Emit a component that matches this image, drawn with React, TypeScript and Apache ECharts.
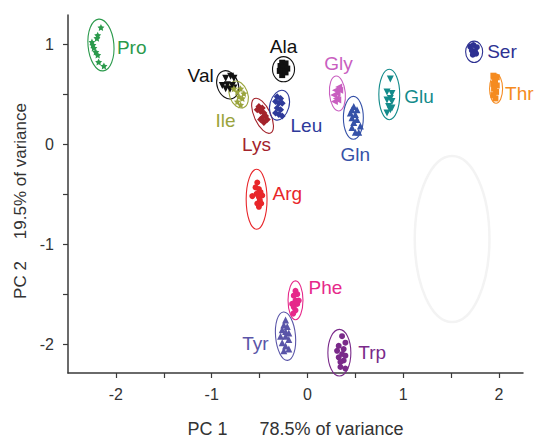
import React, { useEffect, useRef } from "react";
import * as echarts from "echarts";

// ---------- data ----------
const groups = ["Pro", "Val", "Ile", "Ala", "Lys", "Leu", "Gly", "Gln", "Glu", "Ser", "Thr", "Arg", "Phe", "Tyr", "Trp"];

const proPts = [[-2.156, 1.165], [-2.19, 1.087], [-2.198, 1.058], [-2.25, 1.019], [-2.24, 0.99], [-2.23, 0.96], [-2.21, 0.92], [-2.19, 0.89], [-2.18, 0.82], [-2.125, 0.78]];
const valPts = [[-0.854, 0.657], [-0.802, 0.677], [-0.768, 0.657], [-0.889, 0.585], [-0.836, 0.592], [-0.784, 0.585], [-0.854, 0.553], [-0.809, 0.547], [-0.768, 0.56]];
const ilePts = [[-0.768, 0.553], [-0.732, 0.521], [-0.698, 0.553], [-0.716, 0.473], [-0.68, 0.456], [-0.732, 0.424], [-0.698, 0.391], [-0.664, 0.505]];
const alaPts = [[-0.264, 0.813], [-0.229, 0.806], [-0.281, 0.78], [-0.247, 0.764], [-0.211, 0.754], [-0.289, 0.731], [-0.253, 0.722], [-0.264, 0.689], [-0.229, 0.716]];
const lysPts = [[-0.507, 0.376], [-0.472, 0.359], [-0.524, 0.343], [-0.49, 0.327], [-0.455, 0.311], [-0.4375, 0.279], [-0.472, 0.262], [-0.42, 0.246], [-0.455, 0.214], [-0.49, 0.246]];
const leuPts = [[-0.316, 0.473], [-0.281, 0.456], [-0.333, 0.424], [-0.299, 0.408], [-0.264, 0.408], [-0.316, 0.359], [-0.281, 0.343], [-0.333, 0.311], [-0.299, 0.294], [-0.264, 0.279]];
const glyPts = [[0.326, 0.57], [0.292, 0.537], [0.309, 0.505], [0.274, 0.489], [0.302, 0.456], [0.281, 0.424], [0.316, 0.44], [0.336, 0.537]];
const glnPts = [[0.483, 0.376], [0.465, 0.343], [0.517, 0.343], [0.448, 0.311], [0.5, 0.294], [0.465, 0.262], [0.517, 0.246], [0.483, 0.214], [0.552, 0.181], [0.5, 0.117], [0.465, 0.165], [0.535, 0.117]];
const gluPts = [[0.865, 0.65], [0.83, 0.521], [0.882, 0.505], [0.865, 0.456], [0.83, 0.44], [0.882, 0.424], [0.847, 0.376], [0.865, 0.343], [0.83, 0.311], [0.882, 0.359]];
const serPts = [[1.698, 0.974], [1.733, 0.99], [1.768, 0.968], [1.716, 0.935], [1.75, 0.925], [1.726, 0.893], [1.76, 0.903]];
const thrPts = [[1.941, 0.683], [1.976, 0.667], [1.958, 0.634], [1.941, 0.602], [1.976, 0.585], [1.948, 0.553], [1.969, 0.521], [1.941, 0.489], [1.962, 0.456]];
const argPts = [[-0.524, -0.385], [-0.542, -0.434], [-0.507, -0.45], [-0.49, -0.482], [-0.531, -0.498], [-0.472, -0.515], [-0.507, -0.531], [-0.576, -0.521], [-0.497, -0.563], [-0.524, -0.595], [-0.483, -0.595], [-0.507, -0.628]];
const phePts = [[-0.125, -1.469], [-0.107, -1.502], [-0.143, -1.517], [-0.125, -1.566], [-0.091, -1.566], [-0.16, -1.599], [-0.107, -1.599], [-0.143, -1.631], [-0.125, -1.663], [-0.149, -1.696]];
const tyrPts = [[-0.229, -1.76], [-0.247, -1.809], [-0.211, -1.825], [-0.264, -1.857], [-0.229, -1.874], [-0.195, -1.89], [-0.281, -1.922], [-0.229, -1.922], [-0.195, -1.955], [-0.264, -1.987], [-0.229, -2.019], [-0.195, -2.051], [-0.247, -2.068]];
const trpPts = [[0.361, -1.922], [0.396, -1.987], [0.326, -2.019], [0.378, -2.051], [0.309, -2.068], [0.361, -2.1], [0.396, -2.117], [0.326, -2.133], [0.378, -2.165], [0.344, -2.181], [0.396, -2.246], [0.344, -2.23]];

// confidence ellipses (data units): centre x, centre y, half-width, half-height
const ellipseCx = [-2.156, -0.833, -0.719, -0.25, -0.469, -0.292, 0.3125, 0.479, 0.854, 1.74, 1.969, -0.531, -0.125, -0.229, 0.333];
const ellipseCy = [0.99, 0.592, 0.495, 0.748, 0.282, 0.388, 0.505, 0.262, 0.495, 0.922, 0.553, -0.553, -1.563, -1.922, -2.087];
const ellipseRx = [0.135, 0.11, 0.095, 0.115, 0.085, 0.1, 0.083, 0.104, 0.109, 0.089, 0.068, 0.109, 0.078, 0.104, 0.12];
const ellipseRy = [0.26, 0.145, 0.14, 0.126, 0.19, 0.152, 0.175, 0.214, 0.252, 0.107, 0.146, 0.3, 0.194, 0.243, 0.233];

// faint ghost ellipse visible in the figure
const ghostEllipse = [[1.51, -0.95, 0.39, 0.83]];

const xLabelTicks = [-2, -1, 0, 1, 2];
const xAllTicks = [-2, -1.5, -1, -0.5, 0, 0.5, 1, 1.5, 2];
const yLabelTicks = [-2, -1, 0, 1];
const yAllTicks = [-2, -1.5, -1, -0.5, 0, 0.5, 1];

const pointSets = [proPts, valPts, ilePts, alaPts, lysPts, leuPts, glyPts, glnPts, gluPts, serPts, thrPts, argPts, phePts, tyrPts, trpPts];

// ---------- styles ----------
const STAR = "path://M0,-10L2.9,-4L9.5,-3.1L4.8,1.5L5.9,8.1L0,5L-5.9,8.1L-4.8,1.5L-9.5,-3.1L-2.9,-4Z";
const colors = ["#2b9a4c", "#111111", "#9aa43c", "#111111", "#a3232b", "#2e3a9a", "#c95ec0", "#3652a8", "#138b8b", "#2e3192", "#f58b20", "#e8262a", "#e6288a", "#5a55a8", "#7a2a8a"];
const symbols = [STAR, "triangle", STAR, "rect", "diamond", "diamond", "triangle", "triangle", "triangle", "circle", "rect", "circle", "circle", "triangle", "circle"];
const symbolRot = [0, 180, 0, 0, 0, 0, 90, 0, 180, 0, 0, 0, 0, 0, 0];
const symbolSz = [7, 7, 7, 6, 7, 7, 7, 7, 7, 6, 6, 6, 6, 7, 6];
const tilts = [5, 20, 20, 0, 25, -15, 5, 0, 0, 0, 0, 0, 0, 5, 0];
// label offset (px) from ellipse centre and alignment
const labelDx = [16, -14, -13, 0, -6, 11, 1, 2, 15, 13, 9, 16, 13, -17, 19];
const labelDy = [2, -9, 26, -23, 29, 20, -30, 37, 2, 0, 5, -6, -13, 7, 0];
const labelAlign = ["left", "right", "center", "center", "center", "left", "center", "center", "left", "left", "left", "left", "left", "right", "left"];

const FONT = 'Arial, "Liberation Sans", Helvetica, sans-serif';
const AXIS_COLOR = "#3a3a3a";

export default function App() {
  const ref = useRef<HTMLDivElement>(null);
  useEffect(() => {
    if (!ref.current) return;
    const chart = echarts.init(ref.current, undefined, { renderer: "svg" });

    const scatterSeries = groups.map((g, i) => ({
      type: "scatter",
      name: g,
      data: pointSets[i],
      symbol: symbols[i],
      symbolSize: symbolSz[i],
      symbolRotate: symbolRot[i],
      itemStyle: { color: colors[i], opacity: 1 },
      z: 3,
      silent: true,
    }));

    const ellipseData = groups.map((g, i) => [ellipseCx[i], ellipseCy[i], ellipseRx[i], ellipseRy[i]]);

    const option: any = {
      animation: false,
      backgroundColor: "#ffffff",
      grid: { left: 68, right: 17, top: 15, bottom: 60 },
      xAxis: {
        type: "value",
        min: -2.5,
        max: 2.25,
        splitLine: { show: false },
        axisLine: { show: true, onZero: false, lineStyle: { color: AXIS_COLOR, width: 1.5 } },
        axisTick: { show: true, length: 5, customValues: xAllTicks, lineStyle: { color: AXIS_COLOR, width: 1.2 } },
        axisLabel: { customValues: xLabelTicks, color: "#333", fontSize: 16, fontFamily: FONT, margin: 13 },
        name: "{a|PC 1}{b|78.5% of variance}",
        nameLocation: "middle",
        nameGap: 47,
        nameTextStyle: {
          color: "#333",
          fontSize: 18,
          fontFamily: FONT,
          rich: {
            a: { fontSize: 18, fontFamily: FONT, color: "#333", padding: [0, 32, 0, 0] },
            b: { fontSize: 18, fontFamily: FONT, color: "#333" },
          },
        },
      },
      yAxis: {
        type: "value",
        min: -2.29,
        max: 1.29,
        splitLine: { show: false },
        axisLine: { show: true, onZero: false, lineStyle: { color: AXIS_COLOR, width: 1.5 } },
        axisTick: { show: true, length: 5, customValues: yAllTicks, lineStyle: { color: AXIS_COLOR, width: 1.2 } },
        axisLabel: { customValues: yLabelTicks, color: "#333", fontSize: 16, fontFamily: FONT, margin: 14 },
        name: "{a|PC 2}{b|19.5% of variance}",
        nameLocation: "middle",
        nameGap: 39,
        nameTextStyle: {
          color: "#333",
          fontSize: 17,
          fontFamily: FONT,
          padding: [0, 14, 0, 0],
          rich: {
            a: { fontSize: 17, fontFamily: FONT, color: "#333", padding: [0, 22, 0, 0] },
            b: { fontSize: 17, fontFamily: FONT, color: "#333" },
          },
        },
      },
      series: [
        {
          type: "custom",
          name: "ghost",
          silent: true,
          z: 1,
          clip: false,
          data: ghostEllipse,
          renderItem: (params: any, api: any) => {
            const c = api.coord([api.value(0), api.value(1)]);
            const s = api.size([api.value(2), api.value(3)]);
            return {
              type: "ellipse",
              x: c[0],
              y: c[1],
              shape: { cx: 0, cy: 0, rx: s[0], ry: s[1] },
              style: { fill: "none", stroke: "#f3f3f3", lineWidth: 2.5 },
            };
          },
        },
        {
          type: "custom",
          name: "ellipses",
          silent: true,
          z: 2,
          clip: false,
          data: ellipseData,
          renderItem: (params: any, api: any) => {
            const i = params.dataIndex;
            const c = api.coord([api.value(0), api.value(1)]);
            const s = api.size([api.value(2), api.value(3)]);
            return {
              type: "group",
              children: [
                {
                  type: "ellipse",
                  x: c[0],
                  y: c[1],
                  rotation: (tilts[i] * Math.PI) / 180,
                  shape: { cx: 0, cy: 0, rx: s[0], ry: s[1] },
                  style: { fill: "none", stroke: colors[i], lineWidth: 1.1 },
                },
                {
                  type: "text",
                  x: c[0] + labelDx[i],
                  y: c[1] + labelDy[i],
                  style: {
                    text: groups[i],
                    fill: colors[i],
                    fontSize: 19,
                    fontFamily: FONT,
                    align: labelAlign[i],
                    verticalAlign: "middle",
                  },
                },
              ],
            };
          },
        },
        ...scatterSeries,
      ],
    };

    chart.setOption(option);
    return () => chart.dispose();
  }, []);

  return <div ref={ref} style={{ width: 540, height: 443, position: "absolute", left: 0, top: 0 }} />;
}
